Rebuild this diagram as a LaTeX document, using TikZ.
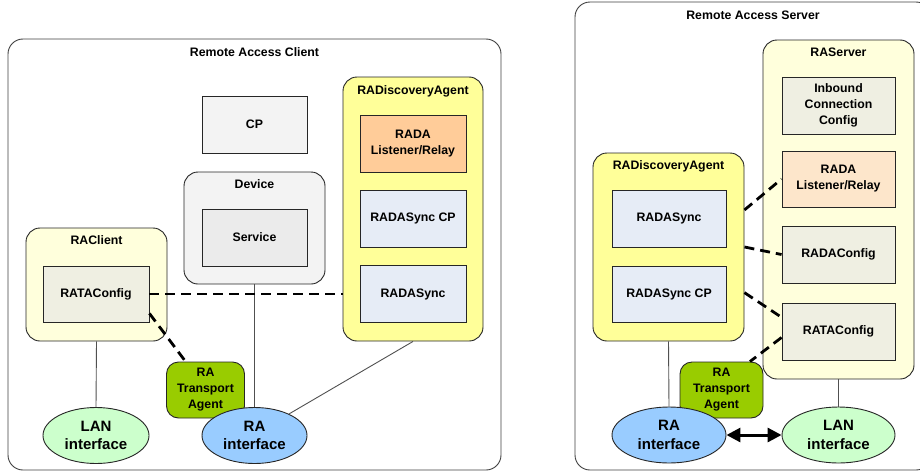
\documentclass[tikz,border=0pt]{standalone}
\usepackage{fontspec}
\setmainfont{Liberation Sans}
\usetikzlibrary{shapes.geometric, arrows.meta}

\definecolor{boxline}{HTML}{262626}
\definecolor{frameline}{HTML}{404040}
\definecolor{wireline}{HTML}{505050}
\definecolor{paleyellow}{HTML}{FFFFDC}
\definecolor{agentyellow}{HTML}{FFFF99}
\definecolor{cpgray}{HTML}{F3F3F3}
\definecolor{svcgray}{HTML}{EBEBEB}
\definecolor{cfggray}{HTML}{EFEFE2}
\definecolor{relayorange}{HTML}{FFCC99}
\definecolor{relaypale}{HTML}{FDE6CB}
\definecolor{syncblue}{HTML}{E6ECF6}
\definecolor{transgreen}{HTML}{99CC00}
\definecolor{raiblue}{HTML}{99CCFF}
\definecolor{langreen}{HTML}{CCFFCC}

\newcommand{\rafont}{\fontsize{12.3}{16}\selectfont\bfseries}
\newcommand{\rabigfont}{\fontsize{15}{18.5}\selectfont\bfseries}

\begin{document}
\begin{tikzpicture}[x = 1pt, y = -1pt]
\tikzstyle{Frame}=[draw = frameline, line width = 0.9pt, rounded corners = 15pt,
                   fill = white, inner sep = 0pt]
\tikzstyle{Group}=[draw = boxline, line width = 0.9pt, rounded corners = 14pt,
                   inner sep = 0pt]
\tikzstyle{Part}=[draw = boxline, line width = 0.9pt, rectangle, inner sep = 0pt,
                  align = center, font = \rafont]
\tikzstyle{Title}=[inner sep = 0pt, align = center, font = \rafont]
\tikzstyle{Transport}=[draw = boxline, line width = 0.9pt, fill = transgreen,
                       rounded corners = 12pt, inner sep = 0pt, align = center,
                       font = \rafont, minimum width = 78pt, minimum height = 56pt]
\tikzstyle{Iface}=[draw = boxline, line width = 0.9pt, ellipse, inner sep = 0pt,
                   align = center, font = \rabigfont, minimum height = 56pt]
\tikzstyle{Wire}=[draw = wireline, line width = 0.9pt]
\tikzstyle{Link}=[draw = black, line width = 2.8pt, dash pattern = on 10pt off 6pt]
\useasboundingbox (0,0) rectangle (920,471);

\node[Frame, minimum width = 493pt, minimum height = 431pt] (client) at (254.5,254.5) {};
\node[Frame, minimum width = 356pt, minimum height = 468pt] (server) at (753,236) {};
\node[Title] (clientT) at (254.5,52) {Remote Access Client};
\node[Title] (serverT) at (753,15) {Remote Access Server};

\node[Part, fill = cpgray, minimum width = 105pt, minimum height = 57pt] (cp) at (254.5,124.5) {CP};
\node[Group, fill = cpgray, minimum width = 141pt, minimum height = 112pt] (dev) at (254.5,228) {};
\node[Title] (devT) at (254.5,184) {Device};
\node[Part, fill = svcgray, minimum width = 105pt, minimum height = 57pt] (svc) at (254.5,237.5) {Service};

\node[Group, fill = agentyellow, minimum width = 140pt, minimum height = 264pt] (lda) at (413,209) {};
\node[Title] (ldaT) at (413,91) {RADiscoveryAgent};
\node[Part, fill = relayorange, minimum width = 106pt, minimum height = 57pt] (llis) at (413,143.5) {RADA\\Listener/Relay};
\node[Part, fill = syncblue, minimum width = 106pt, minimum height = 57pt] (lscp) at (413,218.5) {RADASync CP};
\node[Part, fill = syncblue, minimum width = 106pt, minimum height = 57pt] (lsync) at (413,294) {RADASync};

\node[Group, fill = paleyellow, minimum width = 141pt, minimum height = 113pt] (rac) at (96.5,284.5) {};
\node[Title] (racT) at (96.5,240) {RAClient};
\node[Part, fill = cfggray, minimum width = 106pt, minimum height = 56pt] (rata) at (96,294) {RATAConfig};

\node[Transport] (ltra) at (205.5,390) {RA\\Transport\\Agent};
\node[Iface, fill = langreen, minimum width = 106pt] (llan) at (96,435.5) {LAN\\interface};
\node[Iface, fill = raiblue, minimum width = 105pt] (lrai) at (254.5,435.5) {RA\\interface};

\node[Group, fill = paleyellow, minimum width = 151pt, minimum height = 339pt] (rsrv) at (838.5,209.5) {};
\node[Title] (rsrvT) at (838.5,52) {RAServer};
\node[Part, fill = cfggray, minimum width = 113pt, minimum height = 57pt] (rinb) at (838.5,105.5) {Inbound\\Connection\\Config};
\node[Part, fill = relaypale, minimum width = 113pt, minimum height = 56pt] (rlis) at (838.5,179) {RADA\\Listener/Relay};
\node[Part, fill = cfggray, minimum width = 113pt, minimum height = 57pt] (rdcfg) at (838.5,254.5) {RADAConfig};
\node[Part, fill = cfggray, minimum width = 113pt, minimum height = 57pt] (rtcfg) at (838.5,331.5) {RATAConfig};

\node[Group, fill = agentyellow, minimum width = 151pt, minimum height = 188pt] (rda) at (668.5,247) {};
\node[Title] (rdaT) at (668.5,166) {RADiscoveryAgent};
\node[Part, fill = syncblue, minimum width = 114pt, minimum height = 57pt] (rsync) at (669,218.5) {RADASync};
\node[Part, fill = syncblue, minimum width = 114pt, minimum height = 56pt] (rscp) at (669,294) {RADASync CP};

\node[Transport, minimum width = 83pt] (rtra) at (721.5,390) {RA\\Transport\\Agent};
\node[Iface, fill = raiblue, minimum width = 114pt] (rrai) at (669,435) {RA\\interface};
\node[Iface, fill = langreen, minimum width = 113pt] (rlan) at (838.5,435) {LAN\\interface};

\draw[Wire] (rac.south) -- (llan.north);
\draw[Wire] (dev.south) -- (lrai.north);
\draw[Wire] (lda.south) -- (lrai.32);
\draw[Wire] (rda.south) -- (rrai.north);
\draw[Wire] (rsrv.south) -- (rlan.north);

\draw[Link] (rata.east) -- (lda.west |- rata.east);
\draw[Link] (rata.-20) -- (ltra.125);
\draw[Link] (rda.26) -- (rlis.west);
\draw[Link] (rda.east) -- (rdcfg.west);
\draw[Link] (rda.-31) -- (rtcfg.166);
\draw[Link] (rtcfg.186) -- (rtra.45);

\draw[line width = 3pt, {Triangle[length = 14pt, width = 14pt]}-{Triangle[length = 14pt, width = 14pt]}] (rrai.east) -- (rlan.west);
\end{tikzpicture}
\end{document}
